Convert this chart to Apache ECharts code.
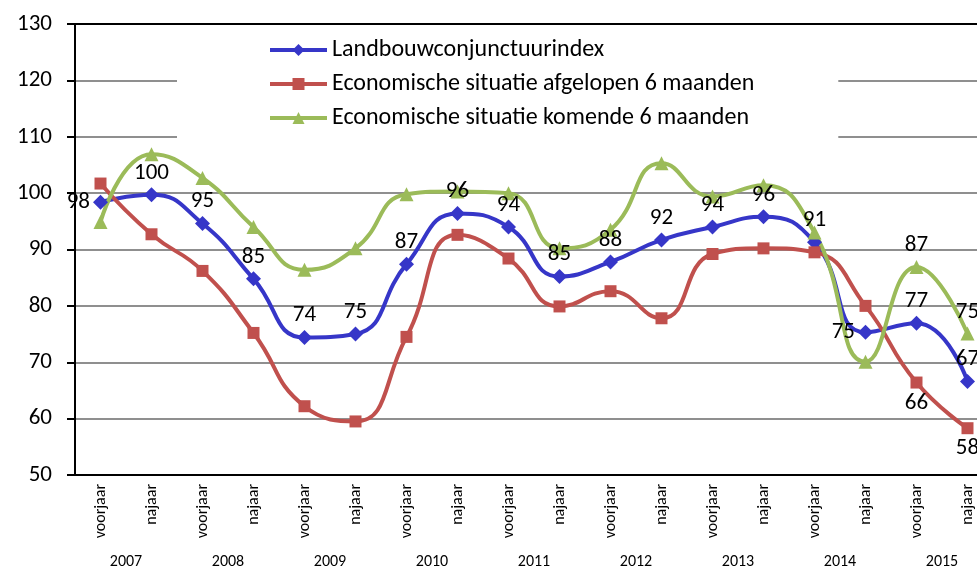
<!DOCTYPE html>
<html lang="nl">
<head>
    <meta charset="UTF-8">
    <title>Landbouwconjunctuur</title>
    <script src="https://cdn.jsdelivr.net/npm/echarts@6/dist/echarts.min.js"></script>
    <style>
        html, body { margin: 0; padding: 0; background: #fff; }
        #main { width: 977px; height: 568px; }
    </style>
</head>
<body>
    <div id="main"></div>
    <script>
        // categorieen
        var seizoenen = ['voorjaar', 'najaar', 'voorjaar', 'najaar', 'voorjaar', 'najaar',
            'voorjaar', 'najaar', 'voorjaar', 'najaar', 'voorjaar', 'najaar',
            'voorjaar', 'najaar', 'voorjaar', 'najaar', 'voorjaar', 'najaar'];
        var jaren = ['2007', '2008', '2009', '2010', '2011', '2012', '2013', '2014', '2015'];

        var landbouw = [98.4, 99.7, 94.6, 84.8, 74.4, 75.0, 87.4, 96.4, 94.0, 85.2, 87.8, 91.7,
            94.0, 95.8, 91.3, 75.3, 76.9, 66.6];
        var afgelopen = [101.7, 92.7, 86.2, 75.2, 62.2, 59.5, 74.5, 92.6, 88.4, 79.9, 82.6, 77.8,
            89.2, 90.2, 89.5, 80.0, 66.4, 58.3];
        var komende = [94.9, 106.9, 102.7, 94.0, 86.4, 90.2, 99.8, 100.3, 100.0, 90.2, 93.5, 105.3,
            99.4, 101.4, 93.0, 70.1, 86.9, 75.1];

        var namen = ['Landbouwconjunctuurindex',
            'Economische situatie afgelopen 6 maanden',
            'Economische situatie komende 6 maanden'];

        var font = 'Carlito, Lato, "Open Sans", sans-serif';

        // welke labels getoond worden en waar
        function punten(values, labels) {
            return values.map(function (v, i) {
                var pos = labels[i];
                return {
                    value: v,
                    label: pos ? { show: true, position: pos } : { show: false }
                };
            });
        }

        var blauwLabels = {};
        landbouw.forEach(function (v, i) { blauwLabels[i] = 'top'; });
        blauwLabels[0] = 'left';
        blauwLabels[15] = 'left';

        var roodLabels = { 16: 'bottom', 17: 'bottom' };
        var groenLabels = { 16: 'top', 17: 'top' };

        var labelStyle = {
            color: '#000',
            fontSize: 23,
            fontFamily: font,
            distance: 3,
            formatter: function (p) { return Math.round(p.value); }
        };

        function reeks(naam, values, labels, color, symbol, size) {
            return {
                name: naam,
                type: 'line',
                xAxisIndex: 0,
                yAxisIndex: 0,
                smooth: 0.5,
                symbol: symbol,
                symbolSize: size,
                lineStyle: { color: color, width: 4 },
                itemStyle: { color: color },
                label: labelStyle,
                data: punten(values, labels)
            };
        }

        var gridKleur = [];
        for (var k = 0; k < 8; k++) gridKleur.push('#8f8f8f');
        gridKleur.push('#000');

        var gridMaat = { left: 75, right: -16, top: 24, bottom: 93, outerBoundsMode: 'none', containLabel: false };

        var chart = echarts.init(document.getElementById('main'));
        chart.setOption({
            animation: false,
            textStyle: { fontFamily: font },
            grid: [gridMaat, Object.assign({}, gridMaat)],
            legend: {
                orient: 'vertical',
                left: 177,
                top: 30,
                padding: [8, 84, 16, 91],
                backgroundColor: '#fff',
                itemWidth: 57,
                itemHeight: 15,
                itemGap: 10,
                lineStyle: { width: 4 },
                textStyle: { fontSize: 24, color: '#000', fontFamily: font },
                data: namen
            },
            xAxis: [{
                type: 'category',
                gridIndex: 0,
                data: seizoenen,
                position: 'bottom',
                offset: 0,
                axisLine: { onZero: false, lineStyle: { color: '#000', width: 2 } },
                axisTick: { interval: 0, length: 67, lineStyle: { color: '#000', width: 2 } },
                axisLabel: { interval: 0, rotate: 90, margin: 9, fontSize: 16, color: '#000', fontFamily: font }
            }, {
                type: 'category',
                gridIndex: 1,
                data: jaren,
                position: 'bottom',
                offset: 0,
                axisLine: { show: false, onZero: false },
                axisTick: { interval: 0, length: 100, lineStyle: { color: '#000', width: 2 } },
                axisLabel: { interval: 0, margin: 79, fontSize: 16, color: '#000', fontFamily: font }
            }],
            yAxis: [{
                type: 'value',
                gridIndex: 0,
                min: 50,
                max: 130,
                interval: 10,
                axisLine: { show: true, lineStyle: { color: '#000', width: 2 } },
                axisTick: { show: true, length: 8, lineStyle: { color: '#000', width: 2 } },
                axisLabel: { fontSize: 23, color: '#000', margin: 23, fontFamily: font },
                splitLine: { lineStyle: { color: gridKleur, width: 2 } }
            }, {
                type: 'value',
                gridIndex: 1,
                show: false
            }],
            series: [
                reeks(namen[0], landbouw, blauwLabels, '#3636C8', 'diamond', 15),
                reeks(namen[1], afgelopen, roodLabels, '#C0504D', 'rect', 12),
                reeks(namen[2], komende, groenLabels, '#9BBB59', 'triangle', 14)
            ]
        });
    </script>
</body>
</html>
